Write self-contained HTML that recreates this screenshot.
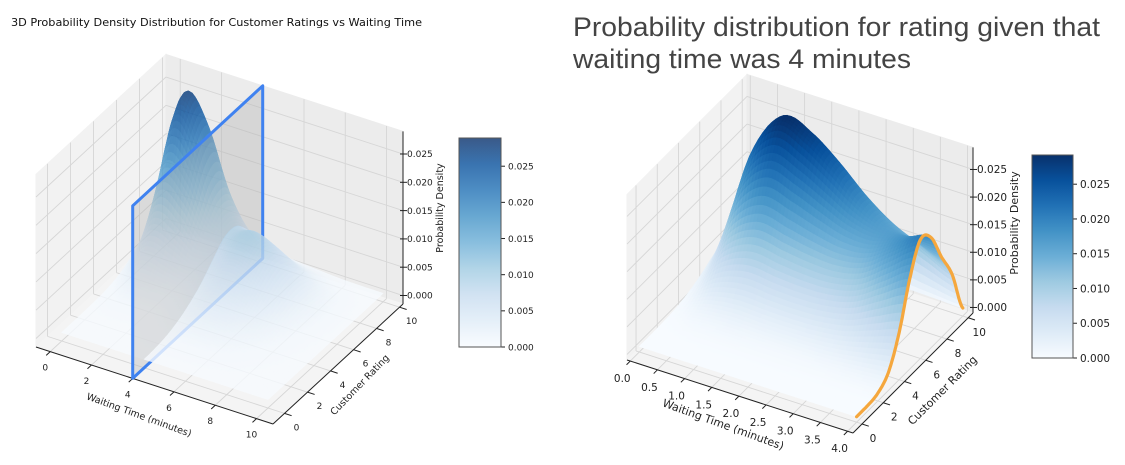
<!DOCTYPE html>
<html><head><meta charset="utf-8">
<style>
html,body{margin:0;padding:0;background:#fff;}
svg{display:block;font-family:"DejaVu Sans","Liberation Sans",sans-serif;}
</style></head>
<body>
<svg id="chart" width="1125" height="465" viewBox="0 0 1125 465" xmlns="http://www.w3.org/2000/svg">
<text x="11" y="26" font-size="10.5" fill="#111" textLength="411" lengthAdjust="spacingAndGlyphs">3D Probability Density Distribution for Customer Ratings vs Waiting Time</text>
<text x="573" y="36" font-size="27" fill="#444" font-family="Liberation Sans, sans-serif" textLength="527" lengthAdjust="spacingAndGlyphs">Probability distribution for rating given that</text>
<text x="573" y="68" font-size="27" fill="#444" font-family="Liberation Sans, sans-serif" textLength="338" lengthAdjust="spacingAndGlyphs">waiting time was 4 minutes</text>
<g id="left"></g>
<g id="right"></g>
</svg>
<script>
// ---------- data ----------
const leftWaitGrid = [0,1,2,3,4,5,6,7,8,9,10];
const leftRatingGrid = [0,1,2,3,4,5,6,7,8,9,10];
const leftPeakWaitProfile = [0.006,0.027,0.024,0.012,0.004,0.0015,0.0005,0.0002,0,0,0];
const leftPeakRatingProfile = [0,0,0.003,0.015,0.05,0.14,0.33,0.62,0.92,0.95,0.45];
const leftSecondWaitProfile = [0,0,0,0.002,0.006,0.009,0.008,0.005,0.002,0.0005,0];
const leftSecondRatingProfile = [0,0.02,0.08,0.2,0.38,0.6,0.85,1.0,0.8,0.35,0.05];

const rightWaitGrid = [0,0.5,1,1.5,2,2.5,3,3.5,4];
const rightRatingGrid = [0,1,2,3,4,5,6,7,8,9,10];
const rightPeakWaitProfile = [0.004,0.022,0.0295,0.028,0.024,0.019,0.015,0.012,0.009];
const rightPeakRatingProfile = [0,0.001,0.01,0.04,0.12,0.28,0.5,0.78,0.97,0.85,0.05];
const rightSecondWaitProfile = [0,0,0,0,0.001,0.003,0.006,0.011,0.016];
const rightSecondRatingProfile = [0,0,0.02,0.12,0.4,0.8,1.0,0.75,0.3,0.05,0];

const leftWaitTicks = [0,2,4,6,8,10];
const leftRatingTicks = [0,2,4,6,8,10];
const rightWaitTicks = [0,0.5,1,1.5,2,2.5,3,3.5,4];
const rightWaitTickLabels = ["0.0","0.5","1.0","1.5","2.0","2.5","3.0","3.5","4.0"];
const rightRatingTicks = [0,2,4,6,8,10];
const densityTicks = [0,0.005,0.01,0.015,0.02,0.025];
const densityTickLabels = ["0.000","0.005","0.010","0.015","0.020","0.025"];
const sliceWait = 4;

// ---------- helpers ----------
const NS = "http://www.w3.org/2000/svg";
function mk(parent, tag, attrs){const e=document.createElementNS(NS,tag);for(const k in attrs)e.setAttribute(k,attrs[k]);parent.appendChild(e);return e;}
function cr(xs, vals, x){
  const n=xs.length;
  if(x<=xs[0])return vals[0]; if(x>=xs[n-1])return vals[n-1];
  const h=xs[1]-xs[0]; let i=Math.floor((x-xs[0])/h); if(i>n-2)i=n-2;
  const t=(x-xs[i])/h;
  const p0=vals[Math.max(i-1,0)],p1=vals[i],p2=vals[i+1],p3=vals[Math.min(i+2,n-1)];
  const v=0.5*((2*p1)+(-p0+p2)*t+(2*p0-5*p1+4*p2-p3)*t*t+(-p0+3*p1-3*p2+p3)*t*t*t);
  return Math.max(0,v);
}
const blues=[[247,251,255],[222,235,247],[198,219,239],[158,202,225],[107,174,214],[66,146,198],[33,113,181],[8,81,156],[8,48,107]];
function cmap(t){t=Math.max(0,Math.min(1,t));const s=t*8;const i=Math.min(7,Math.floor(s));const f=s-i;const a=blues[i],b=blues[i+1];
  return "rgb("+Math.round(a[0]+(b[0]-a[0])*f)+","+Math.round(a[1]+(b[1]-a[1])*f)+","+Math.round(a[2]+(b[2]-a[2])*f)+")";}

function makeChart(cfg){
  const g=document.getElementById(cfg.id);
  const P=(w,r,z)=>{const fw=(w-cfg.wmin)/(cfg.wmax-cfg.wmin),fr=(r-cfg.rmin)/(cfg.rmax-cfg.rmin);
    return [cfg.A[0]+fw*cfg.ab[0]+fr*cfg.bc[0], cfg.A[1]+fw*cfg.ab[1]+fr*cfg.bc[1]-(z-cfg.zmin)*cfg.zs];};
  const pts=a=>a.map(p=>p[0].toFixed(1)+","+p[1].toFixed(1)).join(" ");
  const dens=(w,r)=>cr(cfg.wg,cfg.pw,w)*cr(cfg.rg,cfg.pr,r)+cr(cfg.wg,cfg.sw,w)*cr(cfg.rg,cfg.sr,r);
  const {wmin,wmax,rmin,rmax,zmin,zmax}=cfg;
  const leftWall=mk(g,"polygon",{points:pts([P(wmin,rmin,zmin),P(wmin,rmax,zmin),P(wmin,rmax,zmax),P(wmin,rmin,zmax)]),fill:"#f2f2f2",stroke:"#f2f2f2"});
  
  
  const backWall=mk(g,"polygon",{points:pts([P(wmin,rmax,zmin),P(wmax,rmax,zmin),P(wmax,rmax,zmax),P(wmin,rmax,zmax)]),fill:"#ececec",stroke:"#ececec"});
  
  
  const floor=mk(g,"polygon",{points:pts([P(wmin,rmin,zmin),P(wmax,rmin,zmin),P(wmax,rmax,zmin),P(wmin,rmax,zmin)]),fill:"#f4f4f4",stroke:"#f4f4f4"});
  
  
  const gl=mk(g,"g",{stroke:"#d6d6d6","stroke-width":0.9,fill:"none"});
  
  
  const line=(a,b,par,at)=>mk(par,"line",Object.assign({x1:a[0],y1:a[1],x2:b[0],y2:b[1]},at||{}));
  cfg.rt.forEach(r=>{line(P(wmin,r,zmin),P(wmin,r,zmax),gl);line(P(wmin,r,zmin),P(wmax,r,zmin),gl);});
  cfg.wt.forEach(w=>{line(P(w,rmax,zmin),P(w,rmax,zmax),gl);line(P(w,rmin,zmin),P(w,rmax,zmin),gl);});
  densityTicks.forEach(z=>{line(P(wmin,rmin,z),P(wmin,rmax,z),gl);line(P(wmin,rmax,z),P(wmax,rmax,z),gl);});
  const ax=mk(g,"g",{stroke:"#222","stroke-width":1});
  
  
  line(P(wmin,rmin,zmin),P(wmax,rmin,zmin),ax);
  line(P(wmax,rmin,zmin),P(wmax,rmax,zmin),ax);
  line(P(wmax,rmax,zmin),P(wmax,rmax,zmax),ax);
  const surf=mk(g,"g",{opacity:cfg.alpha});
  
  
  const N=cfg.n, quads=[];
  const w0=cfg.wg[0],w1=cfg.wg[cfg.wg.length-1],r0=cfg.rg[0],r1=cfg.rg[cfg.rg.length-1];
  for(let i=0;i<N;i++)for(let j=0;j<N;j++){
    const wa=w0+(w1-w0)*i/N,wb=w0+(w1-w0)*(i+1)/N,ra=r0+(r1-r0)*j/N,rb=r0+(r1-r0)*(j+1)/N;
    const z1=dens(wa,ra),z2=dens(wb,ra),z3=dens(wb,rb),z4=dens(wa,rb);
    const zc=(z1+z2+z3+z4)/4;
    const fw=((wa+wb)/2-wmin)/(wmax-wmin),fr=((ra+rb)/2-rmin)/(rmax-rmin);
    quads.push({wm:(wa+wb)/2,key:0.5*fw-0.866*fr,p:[P(wa,ra,z1),P(wb,ra,z2),P(wb,rb,z3),P(wa,rb,z4)],c:cmap(zc/cfg.cmax)});
  }
  quads.sort((a,b)=>a.key-b.key);
  const drawQ=(par,q)=>{const e=mk(par,"polygon",{points:pts(q.p),fill:q.c,stroke:q.c,"stroke-width":0.6});
    
    };
  if(cfg.plane){
    quads.filter(q=>q.wm<sliceWait).forEach(q=>drawQ(surf,q));
    const pl=mk(g,"polygon",{points:pts([P(sliceWait,rmin,zmin),P(sliceWait,rmax,zmin),P(sliceWait,rmax,zmax),P(sliceWait,rmin,zmax)]),fill:"rgba(175,175,175,0.35)",stroke:"#3f82f0","stroke-width":3,"stroke-linejoin":"round"});
    
    
    const surf2=mk(g,"g",{opacity:cfg.alpha});
    
    
    quads.filter(q=>q.wm>=sliceWait).forEach(q=>drawQ(surf2,q));
  } else quads.forEach(q=>drawQ(surf,q));
  if(cfg.slice){
    const sp=[];for(let k=0;k<=100;k++){const r=r0+(r1-r0)*k/100;sp.push(P(sliceWait,r,dens(sliceWait,r)));}
    const sl=mk(g,"polyline",{points:pts(sp),fill:"none",stroke:"#f5a73d","stroke-width":3.2,"stroke-linejoin":"round","stroke-linecap":"round"});
    
    
  }
  const tg=mk(g,"g",{fill:"#222","font-size":cfg.fs});
  
  
  cfg.wt.forEach((w,i)=>{const p=P(w,rmin,zmin),q=P(w,rmin-0.35,zmin);line(p,q,ax);
    const t=mk(tg,"text",{x:p[0]+cfg.wOff[0],y:p[1]+cfg.wOff[1],"text-anchor":"middle"});t.textContent=cfg.wl[i];
    
    });
  cfg.rt.forEach(r=>{const p=P(wmax,r,zmin),q=P(wmax+(wmax-wmin)*0.03,r,zmin);line(p,q,ax);
    const t=mk(tg,"text",{x:p[0]+cfg.rOff[0],y:p[1]+cfg.rOff[1],"text-anchor":"middle"});t.textContent=String(r);
    
    });
  densityTicks.forEach((z,i)=>{const p=P(wmax,rmax,z);line([p[0]-3,p[1]],[p[0]+4,p[1]],ax);
    const t=mk(tg,"text",{x:p[0]+4,y:p[1]+cfg.fs*0.35});t.textContent=densityTickLabels[i];
    
    });
  const at=(txt,x,y,rot,name)=>{const t=mk(g,"text",{x:x,y:y,"text-anchor":"middle","font-size":cfg.fs+0.5,fill:"#222",transform:"rotate("+rot+" "+x+" "+y+")"});t.textContent=txt;
    
    };
  at("Waiting Time (minutes)",cfg.wTitle[0],cfg.wTitle[1],cfg.wTitle[2],'x-axis-title');
  at("Customer Rating",cfg.rTitle[0],cfg.rTitle[1],cfg.rTitle[2],'y-axis-title');
  at("Probability Density",cfg.zTitle[0],cfg.zTitle[1],-90,'z-axis-title');
  const cb=cfg.cb, id="grad"+cfg.id;
  const defs=mk(g,"defs",{});const lg=mk(defs,"linearGradient",{id:id,x1:0,y1:1,x2:0,y2:0});
  for(let k=0;k<=16;k++)mk(lg,"stop",{offset:k/16,"stop-color":cmap(k/16)});
  const rect=mk(g,"rect",{x:cb.x,y:cb.y,width:cb.w,height:cb.h,fill:"url(#"+id+")","fill-opacity":cfg.alpha,stroke:"#555","stroke-width":1});
  
  
  densityTicks.forEach((z,i)=>{const y=cb.y+cb.h-z/cfg.cmax*cb.h;
    line([cb.x+cb.w,y],[cb.x+cb.w+4,y],ax);
    const t=mk(g,"text",{x:cb.x+cb.w+7,y:y+cfg.fs*0.37,"font-size":cfg.fs,fill:"#222"});t.textContent=densityTickLabels[i];
    
    });
}

makeChart({id:"left",A:[36,347],ab:[237,77],bc:[130,-120],wmin:-0.69,wmax:10.8,rmin:-1.0,rmax:10.3,zmin:-0.0015,zmax:0.029,zs:5660,
  wg:leftWaitGrid,rg:leftRatingGrid,pw:leftPeakWaitProfile,pr:leftPeakRatingProfile,sw:leftSecondWaitProfile,sr:leftSecondRatingProfile,
  n:80,alpha:0.8,cmax:0.0289,plane:true,slice:false,fs:9,
  wt:leftWaitTicks,wl:leftWaitTicks.map(String),rt:leftRatingTicks,wOff:[-5,19],rOff:[12,17],
  wTitle:[138,418,20],rTitle:[362,387,-46],zTitle:[443,208],cb:{x:459,y:138,w:42,h:209}});
makeChart({id:"right",A:[627,360],ab:[226,73],bc:[120,-120],wmin:-0.06,wmax:4.1,rmin:-0.85,rmax:10.45,zmin:-0.001,zmax:0.029,zs:5520,
  wg:rightWaitGrid,rg:rightRatingGrid,pw:rightPeakWaitProfile,pr:rightPeakRatingProfile,sw:rightSecondWaitProfile,sr:rightSecondRatingProfile,
  n:64,alpha:1,cmax:0.0292,plane:false,slice:true,fs:10.5,
  wt:rightWaitTicks,wl:rightWaitTickLabels,rt:rightRatingTicks,wOff:[-8,21],rOff:[11,18],
  wTitle:[722,428,20],rTitle:[945,393,-45],zTitle:[1018,223],cb:{x:1032,y:155,w:41,h:203}});
</script>
</body></html>
